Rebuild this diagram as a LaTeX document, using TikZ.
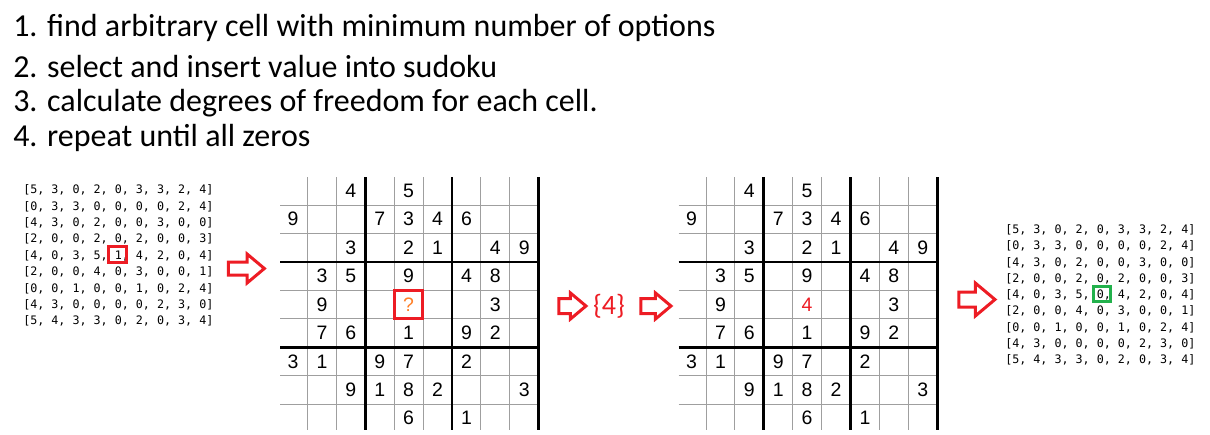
\documentclass[tikz,border=0pt]{standalone}
\usepackage{fontspec}
\setmainfont{Carlito}
\newfontfamily\digitfont{Liberation Sans}
\newfontfamily\codefont{DejaVu Sans Mono}
\usetikzlibrary{shapes.arrows}
\definecolor{paintred}{HTML}{ED1C24}
\definecolor{paintgreen}{HTML}{22B14C}
\definecolor{paintorange}{HTML}{FF7F27}
\tikzset{
  gridthin/.style={gray!75,line width=0.75pt},
  gridthick/.style={black,line width=2pt},
  cell/.style={inner sep=0pt,font=\digitfont\fontsize{14.6}{16}\selectfont},
  codeline/.style={anchor=west,inner sep=0pt,text=black,font=\codefont\fontsize{8.77}{10}\selectfont},
  stepline/.style={anchor=base west,inner sep=0pt,font=\fontsize{24}{28}\selectfont},
  hlbox/.style={draw,line width=2.25pt,inner sep=0pt},
  blockarrow/.style={single arrow,draw=paintred,line width=2.25pt,inner xsep=0pt,single arrow tip angle=80}
}
\def\cellw{28.9}
\def\cellh{28.43}
\def\gridtop{176.6}
\def\givens{1/3/4,1/5/5,2/1/9,2/4/7,2/5/3,2/6/4,2/7/6,3/3/3,3/5/2,3/6/1,3/8/4,3/9/9,%
  4/2/3,4/3/5,4/5/9,4/7/4,4/8/8,5/2/9,5/8/3,6/2/7,6/3/6,6/5/1,6/7/9,6/8/2,%
  7/1/3,7/2/1,7/4/9,7/5/7,7/7/2,8/3/9,8/4/1,8/5/8,8/6/2,8/9/3,9/5/6,9/7/1}
% #1 = x of the grid origin, #2 = node name prefix
\newcommand*\sudokugrid[2]{%
  \foreach \k in {1,...,8}{
    \draw[gridthin] ({#1+\k*\cellw},177) -- ({#1+\k*\cellw},430);
    \draw[gridthin] ({#1+1.4},{\gridtop+\k*\cellh}) -- ({#1+9*\cellw},{\gridtop+\k*\cellh});
  }
  \foreach \k in {3,6}{
    \draw[gridthick] ({#1+\k*\cellw},177) -- ({#1+\k*\cellw},430);
    \draw[gridthick] ({#1+1.4},{\gridtop+\k*\cellh}) -- ({#1+9*\cellw},{\gridtop+\k*\cellh});
  }
  \draw[gridthick] ({#1+9*\cellw},177) -- ({#1+9*\cellw},430);
  \foreach \r/\c/\v in \givens
    \node[cell] (#2-\r-\c) at ({#1+(\c-0.5)*\cellw},{\gridtop+(\r-0.5)*\cellh}) {\v};
}

\begin{document}
\begin{tikzpicture}[x=0.75pt,y=-0.75pt]
\useasboundingbox (0,0) rectangle (1210,435);

% steps
\node[stepline] (s1) at (13,37) {1. find arbitrary cell with minimum number of options};
\node[stepline] (s2) at (13,78) {2. select and insert value into sudoku};
\node[stepline] (s3) at (13,112) {3. calculate degrees of freedom for each cell.};
\node[stepline] (s4) at (13,146) {4. repeat until all zeros};

% degrees of freedom before
\foreach \row [count=\i] in {{[5, 3, 0, 2, 0, 3, 3, 2, 4]},{[0, 3, 3, 0, 0, 0, 0, 2, 4]},
  {[4, 3, 0, 2, 0, 0, 3, 0, 0]},{[2, 0, 0, 2, 0, 2, 0, 0, 3]},{[4, 0, 3, 5, 1, 4, 2, 0, 4]},
  {[2, 0, 0, 4, 0, 3, 0, 0, 1]},{[0, 0, 1, 0, 0, 1, 0, 2, 4]},{[4, 3, 0, 0, 0, 0, 2, 3, 0]},
  {[5, 4, 3, 3, 0, 2, 0, 3, 4]}}
  \node[codeline] (before-\i) at (23,{190+16.4*(\i-1)}) {\row};
\node[hlbox,draw=paintred,minimum width=13.5pt,minimum height=12pt] (pick1) at (117.5,254.5) {};

% degrees of freedom after
\foreach \row [count=\i] in {{[5, 3, 0, 2, 0, 3, 3, 2, 4]},{[0, 3, 3, 0, 0, 0, 0, 2, 4]},
  {[4, 3, 0, 2, 0, 0, 3, 0, 0]},{[2, 0, 0, 2, 0, 2, 0, 0, 3]},{[4, 0, 3, 5, 0, 4, 2, 0, 4]},
  {[2, 0, 0, 4, 0, 3, 0, 0, 1]},{[0, 0, 1, 0, 0, 1, 0, 2, 4]},{[4, 3, 0, 0, 0, 0, 2, 3, 0]},
  {[5, 4, 3, 3, 0, 2, 0, 3, 4]}}
  \node[codeline] (after-\i) at (1005,{230+16.25*(\i-1)}) {\row};
\node[hlbox,draw=paintgreen,minimum width=12.75pt,minimum height=11.25pt] (pick2) at (1102,294) {};

% the two sudokus
\sudokugrid{278.6}{g1}
\node[cell,hlbox,draw=paintred,text=paintorange,minimum size=21pt] (g1-5-5) at ({278.6+4.5*\cellw},{\gridtop+4.5*\cellh}) {?};
\sudokugrid{677.1}{g2}
\node[cell,text=paintred] (g2-5-5) at ({677.1+4.5*\cellw},{\gridtop+4.5*\cellh}) {4};

% arrows
\node[blockarrow,minimum height=27pt,minimum width=19.5pt,inner ysep=3.75pt,single arrow head extend=6pt] (arr1) at (242.5,268.5) {};
\node[blockarrow,minimum height=20.25pt,minimum width=17.25pt,inner ysep=4.5pt,single arrow head extend=4.125pt] (arr2) at (568,306) {};
\node[text=paintred,inner sep=0pt,font=\fontsize{21}{24}\selectfont] (val) at (609,306) {\{4\}};
\node[blockarrow,minimum height=22.5pt,minimum width=17.25pt,inner ysep=4.5pt,single arrow head extend=4.125pt] (arr3) at (651.5,306) {};
\node[blockarrow,minimum height=27pt,minimum width=22.5pt,inner ysep=4.5pt,single arrow head extend=6.75pt] (arr4) at (972.5,299.5) {};

\end{tikzpicture}
\end{document}
